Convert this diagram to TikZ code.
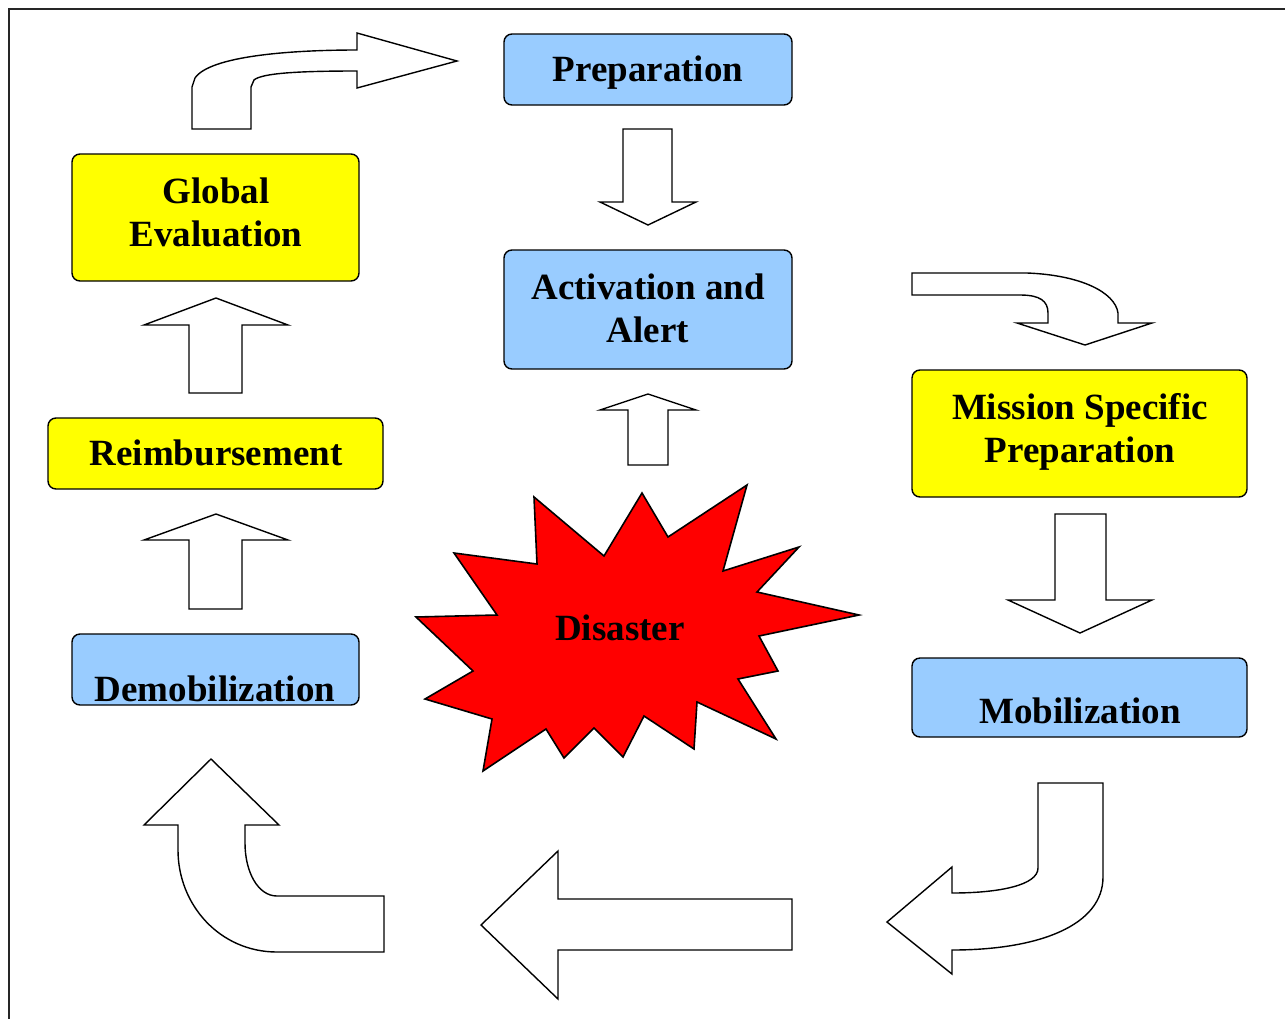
\documentclass[tikz,border=0pt]{standalone}
\usepackage{fontspec}
\setmainfont{Liberation Serif}
\definecolor{boxblue}{HTML}{99CCFF}
\definecolor{boxyellow}{HTML}{FFFF00}
\definecolor{burst}{HTML}{FF0000}
\tikzset{
  stagebox/.style={draw=black, line width=1.4pt, rounded corners=8pt, inner sep=0pt},
  bluebox/.style={stagebox, fill=boxblue},
  yellowbox/.style={stagebox, fill=boxyellow},
  stagetext/.style={font=\fontsize{37}{43}\selectfont\bfseries, align=center, inner sep=0pt},
  blockarrow/.style={draw=black, line width=1.4pt, fill=white, line join=miter},
}
\begin{document}
\begin{tikzpicture}[x=1pt,y=-1pt]
\useasboundingbox (0,0) rectangle (1285,1018);
% frame
\draw[line width=2pt, black!85] (9,1020) -- (9,9) -- (1287,9);

% boxes
\node[bluebox, minimum width=288pt, minimum height=71pt] (prep) at (648,69.5) {};
\node[stagetext] (prept) at (648,73) {Preparation};
\node[bluebox, minimum width=288pt, minimum height=119pt] (act) at (648,309.5) {};
\node[stagetext] (actt) at (648,308) {Activation and\\Alert};
\node[yellowbox, minimum width=287pt, minimum height=127pt] (glob) at (215.5,217.5) {};
\node[stagetext] (globt) at (216,212) {Global\\Evaluation};
\node[yellowbox, minimum width=335pt, minimum height=71pt] (reim) at (215.5,453.5) {};
\node[stagetext] (reimt) at (216,453) {Reimbursement};
\node[bluebox, minimum width=287pt, minimum height=71pt] (demo) at (215.5,669.5) {};
\node[stagetext] (demot) at (215,689) {Demobilization};
\node[yellowbox, minimum width=335pt, minimum height=127pt] (miss) at (1079.5,433.5) {};
\node[stagetext] (misst) at (1080,432) {Mission Specific\\Preparation};
\node[bluebox, minimum width=335pt, minimum height=79pt] (mob) at (1079.5,697.5) {};
\node[stagetext] (mobt) at (1080,711) {Mobilization};

% disaster starburst
\draw[line width=1.6pt, fill=burst, line join=miter]
 (534,497) -- (604,556) -- (642,493) -- (668,537) -- (747,485) -- (723,571)
 -- (799,547) -- (757,592) -- (859,615) -- (759,636) -- (778,671) -- (738,679)
 -- (776,739) -- (697,702) -- (694,749) -- (644,716) -- (623,757) -- (594,728)
 -- (564,758) -- (546,729) -- (483,771) -- (492,719) -- (425,699) -- (473,671)
 -- (416,617) -- (497,615) -- (454,553) -- (537,564) -- cycle;
\node[stagetext] (dis) at (620,628) {Disaster};

% straight block arrows
\draw[blockarrow] (623,129) -- (672,129) -- (672,202) -- (696,202) -- (648,225)
  -- (600,202) -- (623,202) -- cycle;
\draw[blockarrow] (628,465) -- (668,465) -- (668,410) -- (696,410) -- (648,394)
  -- (600,410) -- (628,410) -- cycle;
\draw[blockarrow] (189,393) -- (242,393) -- (242,325) -- (288,325) -- (216,298)
  -- (144,325) -- (189,325) -- cycle;
\draw[blockarrow] (189,609) -- (242,609) -- (242,540) -- (288,540) -- (216,514)
  -- (144,540) -- (189,540) -- cycle;
\draw[blockarrow] (1055,514) -- (1106,514) -- (1106,600) -- (1152,600) -- (1080,633)
  -- (1008,600) -- (1055,600) -- cycle;
\draw[blockarrow] (792,899) -- (792,950) -- (558,950) -- (558,999) -- (481,925)
  -- (558,851) -- (558,899) -- cycle;

% curved block arrows
% top left
\draw[blockarrow] (192,129) -- (192,87) -- (195,78)
  .. controls (210,56) and (290,50) .. (357,50) -- (357,33) -- (457,61)
  -- (357,88) -- (357,71) .. controls (300,71) and (262,73) .. (254,80)
  -- (251,87) -- (251,129) -- cycle;
% top right
\draw[blockarrow] (912,273) -- (1027,273)
  .. controls (1080,275) and (1115,292) .. (1118,313) -- (1118,323) -- (1152,323)
  -- (1085,345) -- (1017,323) -- (1048,323) -- (1048,313)
  .. controls (1048,301) and (1040,295) .. (1020,295) -- (912,295) -- cycle;
% bottom right
\draw[blockarrow] (1038,783) -- (1103,783) -- (1103,877)
  .. controls (1103,925) and (1040,950) .. (952,950) -- (952,974) -- (887,922)
  -- (952,867) -- (952,893) .. controls (1000,893) and (1038,885) .. (1038,868)
  -- cycle;
% bottom left
\draw[blockarrow] (211,759) -- (279,825) -- (245,825) -- (245,843)
  .. controls (245,872) and (258,896) .. (277,896) -- (384,896) -- (384,952)
  -- (277,952) .. controls (220,952) and (178,905) .. (178,850) -- (178,825)
  -- (144,825) -- cycle;
\end{tikzpicture}
\end{document}
